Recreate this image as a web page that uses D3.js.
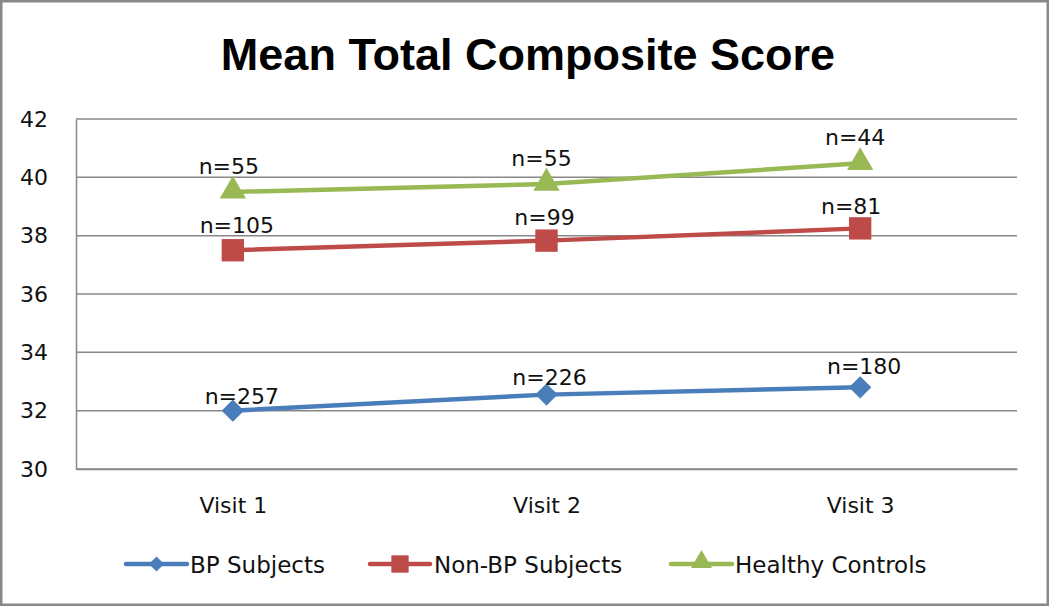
<!DOCTYPE html>
<html>
<head>
<meta charset="utf-8">
<script src="https://cdn.jsdelivr.net/npm/d3@7"></script>
<style>
  html, body { margin: 0; padding: 0; background: #fff; }
  svg { display: block; }
</style>
</head>
<body>
<script>
// ---- data ----
const visits = ["Visit 1", "Visit 2", "Visit 3"];
const seriesNames = ["BP Subjects", "Non-BP Subjects", "Healthy Controls"];
const bpValues = [32.0, 32.55, 32.8];
const nonBpValues = [37.5, 37.83, 38.25];
const healthyValues = [39.5, 39.77, 40.48];
const bpN = ["n=257", "n=226", "n=180"];
const nonBpN = ["n=105", "n=99", "n=81"];
const healthyN = ["n=55", "n=55", "n=44"];
const yTicks = [30, 32, 34, 36, 38, 40, 42];
const title = "Mean Total Composite Score";

// ---- styling ----
const W = 1050, H = 607;
const colors = ["#4A7EBB", "#BE4B48", "#98B954"];
const markers = [d3.symbolSquare, d3.symbolSquare, d3.symbolTriangle];
const markerRotate = [45, 0, 0];
// label offsets (dx, dy of label centre from point)
const labelOffsets = [
  [[9, -15], [3, -18], [4, -21]],
  [[4, -25], [-2, -24], [-9, -22]],
  [[-4, -26], [-5, -26], [-5, -26]]
];

const series = [
  { name: seriesNames[0], values: bpValues, labels: bpN },
  { name: seriesNames[1], values: nonBpValues, labels: nonBpN },
  { name: seriesNames[2], values: healthyValues, labels: healthyN }
];

const svg = d3.select("body").append("svg").attr("width", W).attr("height", H);

// frame
svg.append("rect").attr("x", 1.25).attr("y", 1.25).attr("width", W - 3.5).attr("height", H - 3.5)
  .attr("fill", "#fff").attr("stroke", "#888").attr("stroke-width", 2.5);

const plot = { left: 76, right: 1017, top: 119, bottom: 469 };

const x = d3.scalePoint().domain(visits).range([plot.left, plot.right]).padding(0.5);
const y = d3.scaleLinear().domain([30, 42]).range([plot.bottom, plot.top]);

// title
svg.append("text").attr("x", 528).attr("y", 70).attr("text-anchor", "middle")
  .attr("font-family", "Liberation Sans, Arial, sans-serif").attr("font-weight", "bold")
  .attr("font-size", 45).attr("fill", "#000").text(title);

// gridlines
svg.append("g").selectAll("line").data(yTicks).join("line")
  .attr("x1", plot.left).attr("x2", plot.right)
  .attr("y1", d => y(d)).attr("y2", d => y(d))
  .attr("stroke", "#888").attr("stroke-width", 1.5);

// y axis
const yAxis = svg.append("g").attr("transform", `translate(${plot.left},0)`)
  .call(d3.axisLeft(y).tickValues(yTicks).tickSize(0).tickPadding(28));
yAxis.select(".domain").attr("stroke", "#888").attr("stroke-width", 1.5);
yAxis.selectAll("text").attr("font-family", "DejaVu Sans, sans-serif").attr("font-size", 22).attr("fill", "#111");

// x axis
const xAxis = svg.append("g").attr("transform", `translate(0,${plot.bottom})`)
  .call(d3.axisBottom(x).tickSize(0).tickPadding(28));
xAxis.select(".domain").attr("stroke", "#888").attr("stroke-width", 1.5);
xAxis.selectAll("text").attr("font-family", "DejaVu Sans, sans-serif").attr("font-size", 22).attr("fill", "#111");

// lines & markers
const line = d3.line().x((d, i) => x(visits[i])).y(d => y(d));
const plotSizes = [250, 500, 300];
series.forEach((s, si) => {
  const g = svg.append("g");
  g.append("path").datum(s.values).attr("d", line)
    .attr("fill", "none").attr("stroke", colors[si]).attr("stroke-width", 4.5);
  g.selectAll("path.m").data(s.values).join("path").attr("class", "m")
    .attr("transform", (d, i) => `translate(${x(visits[i])},${y(d) + (si === 2 ? -1 : 0)}) rotate(${markerRotate[si]})`)
    .attr("d", d3.symbol().type(markers[si]).size(plotSizes[si]))
    .attr("fill", colors[si]);
  g.selectAll("text").data(s.labels).join("text")
    .attr("x", (d, i) => x(visits[i]) + labelOffsets[si][i][0])
    .attr("y", (d, i) => y(s.values[i]) + labelOffsets[si][i][1] + 8)
    .attr("text-anchor", "middle")
    .attr("font-family", "DejaVu Sans, sans-serif").attr("font-size", 22).attr("fill", "#111")
    .text(d => d);
});

// legend
const legendItems = [
  { x0: 126, x1: 187, tx: 190 },
  { x0: 370, x1: 430, tx: 434 },
  { x0: 671, x1: 732, tx: 735 }
];
const legendSizes = [115, 300, 190];
const ly = 564;
const lg = svg.append("g");
series.forEach((s, si) => {
  const it = legendItems[si];
  lg.append("line").attr("x1", it.x0).attr("x2", it.x1).attr("y1", ly).attr("y2", ly)
    .attr("stroke", colors[si]).attr("stroke-width", 4.5).attr("stroke-linecap", "round");
  lg.append("path").attr("transform", `translate(${(it.x0 + it.x1) / 2},${ly + (si === 2 ? -2 : 0)}) rotate(${markerRotate[si]})`)
    .attr("d", d3.symbol().type(markers[si]).size(legendSizes[si])).attr("fill", colors[si]);
  lg.append("text").attr("x", it.tx).attr("y", ly + 8.5)
    .attr("font-family", "DejaVu Sans, sans-serif").attr("font-size", 23).attr("fill", "#111")
    .text(s.name);
});
</script>
</body>
</html>
